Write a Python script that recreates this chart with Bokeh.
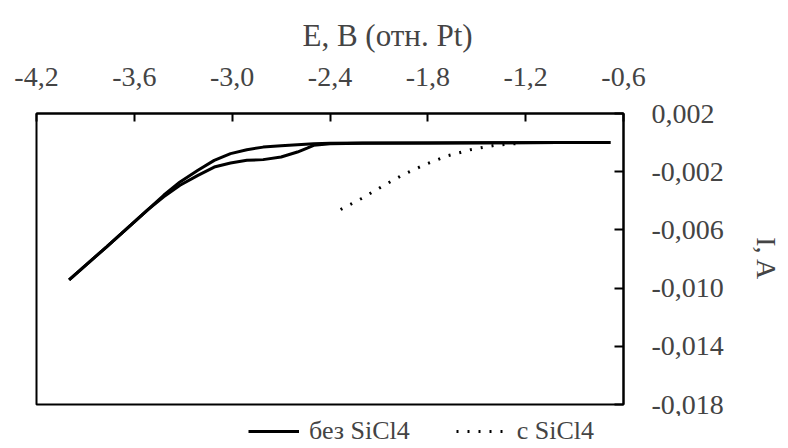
from bokeh.plotting import figure
from bokeh.layouts import column
from bokeh.models import FixedTicker, Legend, LegendItem, Range1d
from bokeh.embed import file_html
from bokeh.resources import INLINE

# ---- data ----
e_up = [-4.0, -3.77, -3.52, -3.42, -3.32, -3.21, -3.11, -3.01, -2.91, -2.81, -2.70, -2.60, -2.50, -2.40, -2.2, -1.8, -1.4, -1.0, -0.68]
i_up = [-0.00944, -0.00716, -0.00464, -0.00362, -0.00270, -0.00190, -0.00122, -0.00076, -0.00049, -0.00031, -0.00021, -0.00014, -0.00008, -0.00005, -0.00003, -0.00002, -0.00001, 0.0, 0.0]

e_dn = [-4.0, -3.77, -3.52, -3.42, -3.32, -3.21, -3.11, -3.01, -2.91, -2.81, -2.70, -2.60, -2.54, -2.50, -2.40, -2.2, -1.8, -1.4, -1.0, -0.68]
i_dn = [-0.00944, -0.00716, -0.00464, -0.00373, -0.00293, -0.00225, -0.00168, -0.00140, -0.00122, -0.00117, -0.00099, -0.00065, -0.00038, -0.00019, -0.00008, -0.00004, -0.00002, -0.00001, 0.0, 0.0]

e_si = [-2.335, -2.206, -2.079, -1.947, -1.813, -1.678, -1.531, -1.390, -1.25]
i_si = [-0.00460, -0.00384, -0.00300, -0.00218, -0.00149, -0.00090, -0.00047, -0.00019, -0.00006]

x_ticks = [-4.2, -3.6, -3.0, -2.4, -1.8, -1.2, -0.6]
x_tick_labels = ["-4,2", "-3,6", "-3,0", "-2,4", "-1,8", "-1,2", "-0,6"]
y_ticks = [0.002, -0.002, -0.006, -0.010, -0.014, -0.018]
y_tick_labels = ["0,002", "-0,002", "-0,006", "-0,010", "-0,014", "-0,018"]

x_title = "E, B (отн. Pt)"
y_title = "I, A"
label_1 = "без SiCl4"
label_2 = "с SiCl4"

FONT = "Liberation Serif"

p = figure(frame_width=587, frame_height=291, output_backend="svg", toolbar_location=None,
           x_axis_location="above", y_axis_location="right",
           x_range=Range1d(-4.2, -0.6), y_range=Range1d(-0.018, 0.002),
           min_border_left=36, min_border_right=157, min_border_top=113, min_border_bottom=12)
p.grid.visible = False
p.outline_line_color = "black"
p.outline_line_width = 2
p.background_fill_color = "white"
p.border_fill_color = "white"

# x-axis title, placed (as in the original) right of the frame centre
p.title.text = x_title
p.title.align = "left"
p.title.offset = 266
p.title.text_font = FONT
p.title.text_font_style = "normal"
p.title.text_font_size = "31px"
p.title.standoff = 24

p.line(e_up, i_up, line_color="black", line_width=3)
p.line(e_dn, i_dn, line_color="black", line_width=3)
p.line(e_si, i_si, line_color="black", line_width=3, line_dash="2 9")

xa = p.xaxis[0]
xa.ticker = FixedTicker(ticks=x_ticks)
xa.major_label_overrides = {t: l for t, l in zip(x_ticks, x_tick_labels)}
xa.major_label_text_font = FONT
xa.major_label_text_font_size = "28px"
xa.major_label_standoff = 28
xa.major_tick_in = 8
xa.major_tick_out = 0
xa.major_tick_line_width = 2
xa.minor_tick_line_color = None
xa.axis_line_width = 2

ya = p.yaxis[0]
ya.ticker = FixedTicker(ticks=y_ticks)
ya.major_label_overrides = {t: l for t, l in zip(y_ticks, y_tick_labels)}
ya.axis_label = y_title
ya.axis_label_text_font = FONT
ya.axis_label_text_font_style = "normal"
ya.axis_label_text_font_size = "28px"
ya.axis_label_standoff = 24
ya.major_label_text_font = FONT
ya.major_label_text_font_size = "28px"
ya.major_label_standoff = 28
ya.major_tick_in = 9
ya.major_tick_out = 0
ya.major_tick_line_width = 2
ya.minor_tick_line_color = None
ya.axis_line_width = 2

# legend strip below the chart (same series, drawn out of view so only the keys show)
lg = figure(width=780, height=28, output_backend="svg", toolbar_location=None,
            x_axis_location=None, y_axis_location=None,
            x_range=Range1d(0, 1), y_range=Range1d(0, 1),
            min_border_left=0, min_border_right=0, min_border_top=0, min_border_bottom=0)
lg.grid.visible = False
lg.outline_line_color = None
lg.background_fill_color = "white"
lg.border_fill_color = "white"
k1 = lg.line(e_up, i_up, line_color="black", line_width=3)
k2 = lg.line(e_si, i_si, line_color="black", line_width=3, line_dash="2 9")

legend = Legend(items=[LegendItem(label=label_1, renderers=[k1]),
                       LegendItem(label=label_2, renderers=[k2])],
                orientation="horizontal", location=(212, -2),
                label_text_font=FONT, label_text_font_size="26px",
                border_line_color=None, background_fill_alpha=0,
                glyph_width=51, glyph_height=20, spacing=46, padding=0, margin=0,
                label_standoff=10)
lg.add_layout(legend, "center")

layout = column(p, lg, spacing=0)
open("out.html", "w").write(file_html(layout, INLINE))
